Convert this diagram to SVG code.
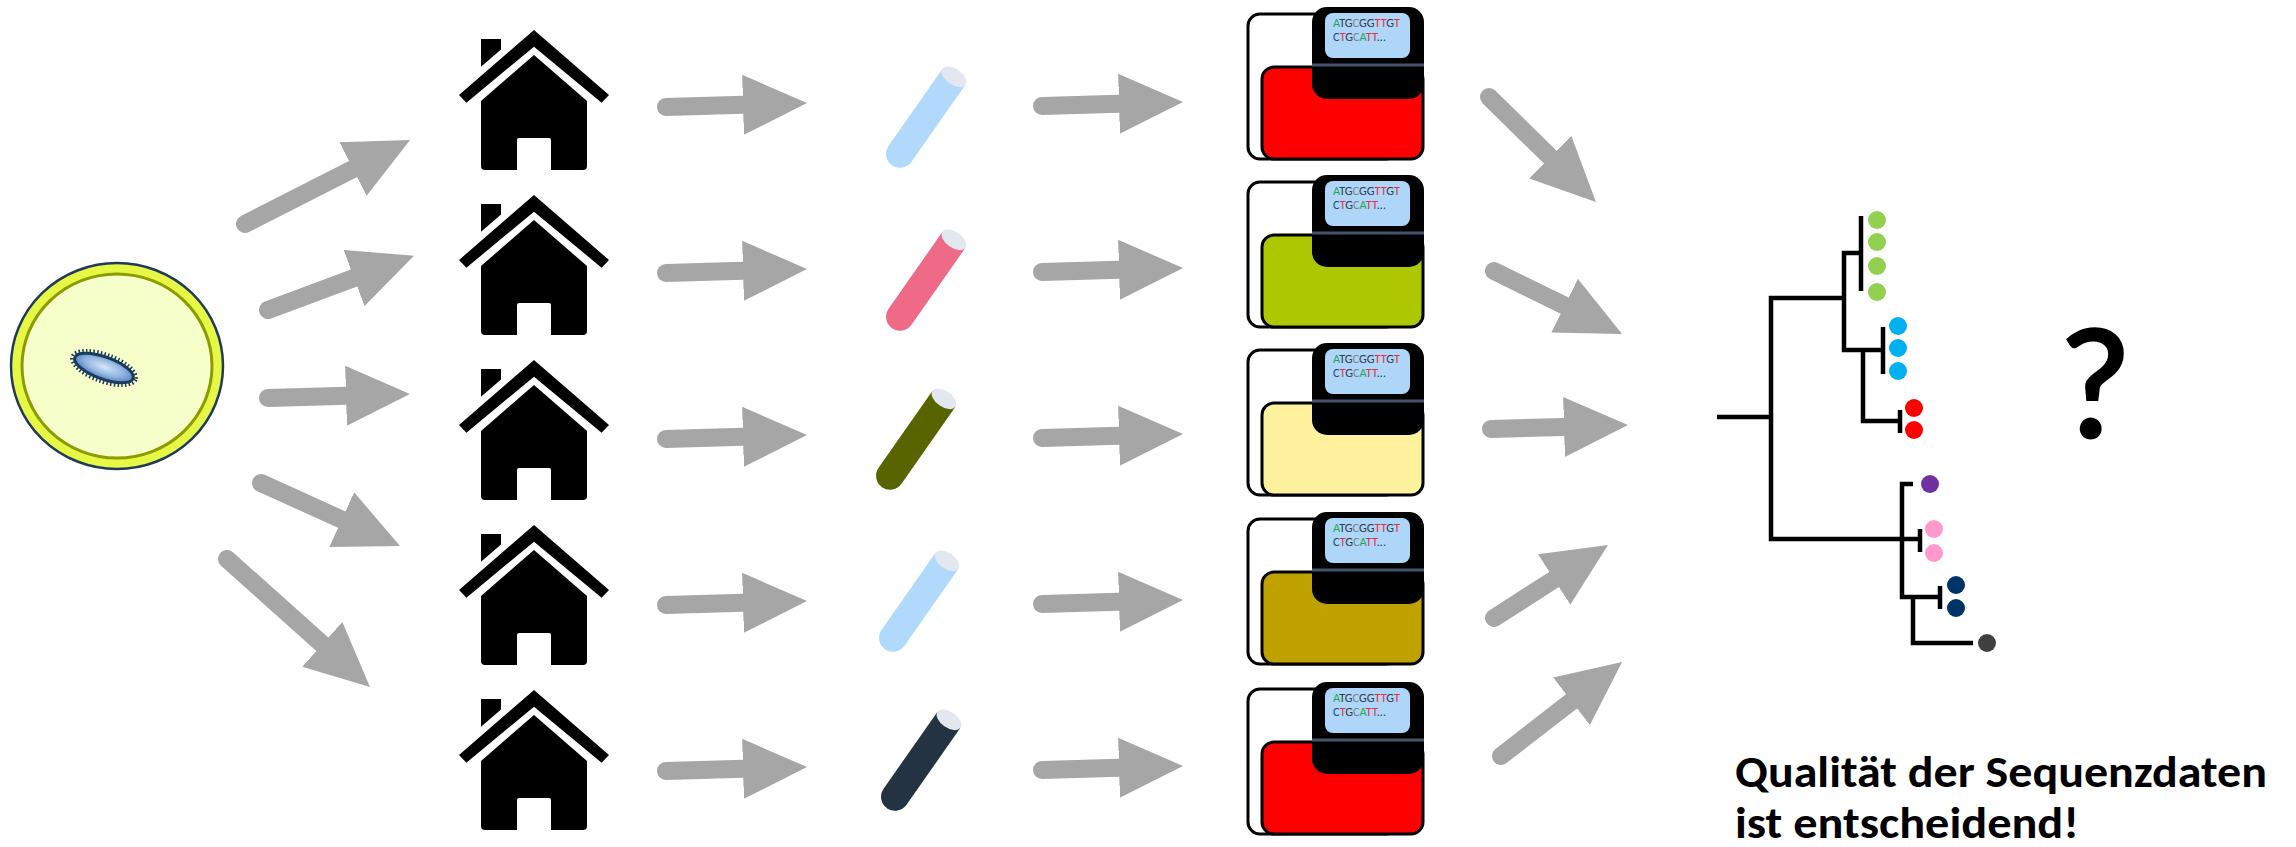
<svg xmlns="http://www.w3.org/2000/svg" width="2296" height="847" viewBox="0 0 2296 847">
  <style>
    .flow { stroke: #a6a6a6; stroke-width: 18; stroke-linecap: round; fill: none; marker-end: url(#head); }
    .frame { fill: #ffffff; stroke: #000000; stroke-width: 3; }
    .tray { stroke: #000000; stroke-width: 3; }
    .branch { fill: none; stroke: #000000; stroke-width: 4.5; stroke-linejoin: miter; stroke-linecap: butt; }
    .seq { font-family: Carlito, Lato, "Liberation Sans", sans-serif; font-size: 12px; }
    .big { font-family: Carlito, "Open Sans", "Liberation Sans", sans-serif; font-weight: bold; fill: #000000; }
    .mark { font-family: Carlito, "Open Sans", "Liberation Sans", sans-serif; font-weight: normal; fill: #000000; stroke: #000000; stroke-width: 3; }
    .cap { fill: #e3e8f0; }
  </style>
  <defs>
    <marker id="head" markerUnits="userSpaceOnUse" markerWidth="64" markerHeight="60" viewBox="0 0 64 60" refX="0" refY="30" orient="auto">
      <path d="M0,0 L64,30 L0,60 Z" fill="#a6a6a6"/>
    </marker>
    <radialGradient id="cellFill" cx="0.5" cy="0.45" r="0.6">
      <stop offset="0" stop-color="#d6e6f7"/>
      <stop offset="0.55" stop-color="#8fb4e0"/>
      <stop offset="1" stop-color="#3f6fae"/>
    </radialGradient>
    <!-- house icon, origin at the roof apex -->
    <g id="house">
      <path d="M0,0 L75,65 L67.6,72.7 L0,16.7 L-67.6,72.7 L-75,65 Z" fill="#000000"/>
      <path d="M-53,36.7 L-53,9 L-33,9 L-33,19.4 Z" fill="#000000"/>
      <path d="M0,25 L53,71 L53,136 Q53,140 49,140 L-49,140 Q-53,140 -53,136 L-53,71 Z" fill="#000000"/>
      <path d="M-17,140 V110 Q-17,108 -15,108 H15 Q17,108 17,110 V140 Z" fill="#ffffff"/>
    </g>
    <!-- sequencer head with read-out screen -->
    <g id="reader">
      <rect x="1312" y="7" width="112" height="92" rx="15" fill="#000000"/>
      <line x1="1312" y1="65" x2="1424" y2="65" stroke="#44546a" stroke-width="3"/>
      <rect x="1325" y="13" width="85" height="45" rx="8" fill="#aed6f8"/>
      <text class="seq" x="1333" y="27" textLength="67" lengthAdjust="spacingAndGlyphs"><tspan fill="#1fa85a">A</tspan><tspan fill="#333c48">TG</tspan><tspan fill="#7d8794">C</tspan><tspan fill="#333c48">GG</tspan><tspan fill="#e8313c">TT</tspan><tspan fill="#333c48">G</tspan><tspan fill="#e8313c">T</tspan></text>
      <text class="seq" x="1333" y="41" textLength="53" lengthAdjust="spacingAndGlyphs"><tspan fill="#2c4b6b">C</tspan><tspan fill="#e8313c">T</tspan><tspan fill="#333c48">G</tspan><tspan fill="#7d8794">C</tspan><tspan fill="#1fa85a">A</tspan><tspan fill="#e8313c">TT</tspan><tspan fill="#333c48">...</tspan></text>
    </g>
    <!-- sample tube, upright, centred on the origin -->
    <path id="tubeBody" d="M-14,-54 H14 V40 A14,14 0 0 1 -14,40 Z"/>
  </defs>

  <!-- culture plate with a single bacterium -->
  <g id="plate">
    <ellipse cx="117" cy="366" rx="106" ry="103" fill="#e6f845" stroke="#1f3a5a" stroke-width="2.5"/>
    <ellipse cx="117" cy="366" rx="95" ry="92" fill="#f6ffca" stroke="#8c9c00" stroke-width="3"/>
    <g transform="translate(104,368) rotate(20)">
      <ellipse cx="0" cy="0" rx="33.5" ry="13.5" fill="none" stroke="#1b3a5e" stroke-width="4" stroke-dasharray="1.5 2.2"/>
      <ellipse cx="0" cy="0" rx="31" ry="11" fill="url(#cellFill)" stroke="#1b3a5e" stroke-width="3"/>
    </g>
  </g>

  <!-- houses -->
  <g id="house1"><use href="#house" transform="translate(534,30)"/></g>
  <g id="house2"><use href="#house" transform="translate(534,195)"/></g>
  <g id="house3"><use href="#house" transform="translate(534,360)"/></g>
  <g id="house4"><use href="#house" transform="translate(534,525)"/></g>
  <g id="house5"><use href="#house" transform="translate(534,690)"/></g>

  <!-- tubes -->
  <g id="tube1" transform="translate(923,121) rotate(35)">
    <use href="#tubeBody" fill="#b1d9fc"/><ellipse class="cap" cx="0" cy="-54" rx="14" ry="8"/>
  </g>
  <g id="tube2" transform="translate(923,284) rotate(35)">
    <use href="#tubeBody" fill="#ee6a87"/><ellipse class="cap" cx="0" cy="-54" rx="14" ry="8"/>
  </g>
  <g id="tube3" transform="translate(913,443) rotate(35)">
    <use href="#tubeBody" fill="#586400"/><ellipse class="cap" cx="0" cy="-54" rx="14" ry="8"/>
  </g>
  <g id="tube4" transform="translate(916,605) rotate(35)">
    <use href="#tubeBody" fill="#b1d9fc"/><ellipse class="cap" cx="0" cy="-54" rx="14" ry="8"/>
  </g>
  <g id="tube5" transform="translate(918,764) rotate(35)">
    <use href="#tubeBody" fill="#233342"/><ellipse class="cap" cx="0" cy="-54" rx="14" ry="8"/>
  </g>

  <!-- sequencers -->
  <g id="sequencer1">
    <rect class="frame" x="1248" y="14" width="150" height="145" rx="12"/>
    <rect class="tray" x="1262" y="67" width="161" height="92" rx="12" fill="#ff0000"/>
    <use href="#reader"/>
  </g>
  <g id="sequencer2" transform="translate(0,168)">
    <rect class="frame" x="1248" y="14" width="150" height="145" rx="12"/>
    <rect class="tray" x="1262" y="67" width="161" height="92" rx="12" fill="#adc800"/>
    <use href="#reader"/>
  </g>
  <g id="sequencer3" transform="translate(0,336)">
    <rect class="frame" x="1248" y="14" width="150" height="145" rx="12"/>
    <rect class="tray" x="1262" y="67" width="161" height="92" rx="12" fill="#fff29e"/>
    <use href="#reader"/>
  </g>
  <g id="sequencer4" transform="translate(0,505)">
    <rect class="frame" x="1248" y="14" width="150" height="145" rx="12"/>
    <rect class="tray" x="1262" y="67" width="161" height="92" rx="12" fill="#bfa200"/>
    <use href="#reader"/>
  </g>
  <g id="sequencer5" transform="translate(0,675)">
    <rect class="frame" x="1248" y="14" width="150" height="145" rx="12"/>
    <rect class="tray" x="1262" y="67" width="161" height="92" rx="12" fill="#ff0000"/>
    <use href="#reader"/>
  </g>

  <!-- phylogenetic tree -->
  <g id="tree">
    <path class="branch" d="M1717,417 H1771 M1844,298 H1771 V539 H1920 M1861,253 H1844 V350 H1883 M1861,216 V291 M1883,327 V374 M1863,350 V421 H1900 M1900,410 V433 M1920,529 V552 M1913,484 H1902 V597 H1940 M1940,586 V609 M1913,597 V643 H1973"/>
    <g fill="#92d050">
      <circle cx="1877" cy="220" r="9"/><circle cx="1877" cy="242" r="9"/><circle cx="1877" cy="266" r="9"/><circle cx="1877" cy="292" r="9"/>
    </g>
    <g fill="#00b0f0">
      <circle cx="1898" cy="326" r="9"/><circle cx="1898" cy="348" r="9"/><circle cx="1898" cy="371" r="9"/>
    </g>
    <g fill="#ff0000">
      <circle cx="1914" cy="408" r="9"/><circle cx="1914" cy="430" r="9"/>
    </g>
    <circle cx="1930" cy="484" r="9" fill="#7030a0"/>
    <g fill="#ff99cc">
      <circle cx="1934" cy="529" r="9"/><circle cx="1934" cy="553" r="9"/>
    </g>
    <g fill="#003366">
      <circle cx="1956" cy="585" r="9"/><circle cx="1956" cy="608" r="9"/>
    </g>
    <circle cx="1987" cy="643" r="9" fill="#404040"/>
  </g>

  <!-- open question -->
  <g id="question">
    <text class="mark" x="2095" y="437" font-size="158" text-anchor="middle">?</text>
  </g>

  <!-- caption -->
  <g id="caption">
    <text class="big" x="1735" y="787" font-size="45" textLength="532" lengthAdjust="spacingAndGlyphs">Qualität der Sequenzdaten</text>
    <text class="big" x="1735" y="838" font-size="45" textLength="344" lengthAdjust="spacingAndGlyphs">ist entscheidend!</text>
  </g>

  <!-- connectors -->
  <g id="connectors">
    <!-- plate to houses -->
    <line class="flow" x1="245" y1="224" x2="353" y2="169"/>
    <line class="flow" x1="268" y1="310" x2="354" y2="278"/>
    <line class="flow" x1="268" y1="398" x2="346" y2="395.8"/>
    <line class="flow" x1="261" y1="483" x2="341.7" y2="519.6"/>
    <line class="flow" x1="227" y1="559" x2="322.3" y2="644.3"/>
    <!-- houses to tubes -->
    <line class="flow" x1="666" y1="107" x2="743" y2="104.8"/>
    <line class="flow" x1="666" y1="273" x2="743" y2="270.8"/>
    <line class="flow" x1="666" y1="439" x2="743" y2="436.8"/>
    <line class="flow" x1="666" y1="605" x2="743" y2="602.8"/>
    <line class="flow" x1="666" y1="771" x2="743" y2="768.8"/>
    <!-- tubes to sequencers -->
    <line class="flow" x1="1042" y1="106" x2="1119" y2="103.8"/>
    <line class="flow" x1="1042" y1="272" x2="1119" y2="269.8"/>
    <line class="flow" x1="1042" y1="438" x2="1119" y2="435.8"/>
    <line class="flow" x1="1042" y1="604" x2="1119" y2="601.8"/>
    <line class="flow" x1="1042" y1="770" x2="1119" y2="767.8"/>
    <!-- sequencers to tree -->
    <line class="flow" x1="1489" y1="97" x2="1550.3" y2="157.2"/>
    <line class="flow" x1="1494" y1="271" x2="1564.6" y2="305.7"/>
    <line class="flow" x1="1491" y1="429" x2="1564" y2="426.9"/>
    <line class="flow" x1="1494" y1="618" x2="1554.1" y2="579.5"/>
    <line class="flow" x1="1501" y1="756" x2="1571.5" y2="701.3"/>
  </g>
</svg>
